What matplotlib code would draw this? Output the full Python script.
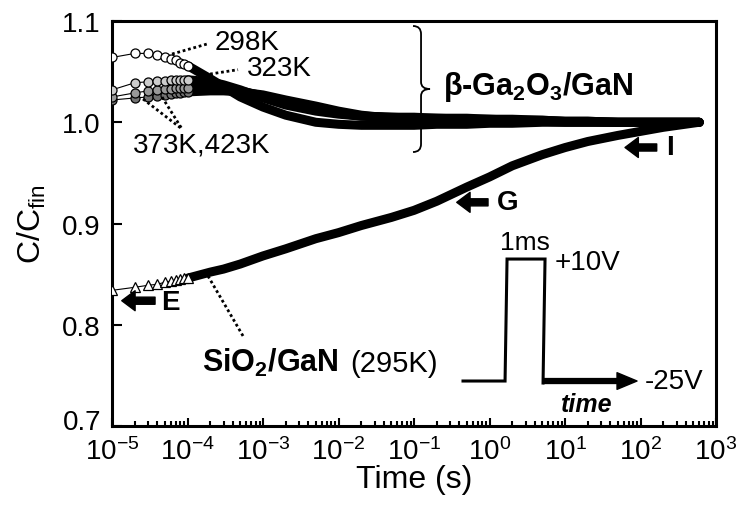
"""
Normalized capacitance transient C/C_fin after a +10 V / 1 ms pulse
beta-Ga2O3/GaN at several temperatures vs. SiO2/GaN reference
"""
import matplotlib.pyplot as plt
from matplotlib.path import Path
from matplotlib.patches import PathPatch
from matplotlib.ticker import LogLocator, NullFormatter
from matplotlib.transforms import ScaledTranslation

plt.rcParams['font.family'] = ['Liberation Sans', 'DejaVu Sans']
plt.rcParams['mathtext.fontset'] = 'custom'
plt.rcParams['mathtext.rm'] = 'Liberation Sans'
plt.rcParams['mathtext.it'] = 'Liberation Sans:italic'
plt.rcParams['mathtext.bf'] = 'Liberation Sans:bold'

# time axis (s)
time_s = [1e-5, 2e-5, 3e-5, 4e-5, 5e-5, 6e-5, 7e-5, 8e-5, 9e-5, 1e-4,
          2e-4, 3e-4, 5e-4, 1e-3, 2e-3, 5e-3, 1e-2, 2e-2, 5e-2, 0.1,
          0.2, 0.5, 1, 2, 5, 10, 20, 50, 100, 200, 600]

# beta-Ga2O3/GaN
c_298k = [1.064, 1.068, 1.068, 1.066, 1.064, 1.062, 1.061, 1.059, 1.058, 1.056,
          1.043, 1.035, 1.025, 1.015, 1.007, 1.000, 0.998, 0.997, 0.997, 0.997,
          0.998, 0.998, 0.999, 0.999, 1.000, 1.000, 1.000, 1.000, 1.000, 1.000, 1.000]
c_323k = [1.032, 1.039, 1.040, 1.041, 1.041, 1.042, 1.042, 1.042, 1.042, 1.042,
          1.040, 1.037, 1.032, 1.024, 1.017, 1.011, 1.008, 1.006, 1.005, 1.005,
          1.004, 1.004, 1.003, 1.003, 1.002, 1.001, 1.001, 1.000, 1.000, 1.000, 1.000]
c_373k = [1.025, 1.029, 1.031, 1.032, 1.033, 1.033, 1.034, 1.034, 1.034, 1.034,
          1.034, 1.033, 1.031, 1.026, 1.020, 1.013, 1.009, 1.006, 1.005, 1.004,
          1.004, 1.003, 1.003, 1.002, 1.002, 1.001, 1.001, 1.000, 1.000, 1.000, 1.000]
c_423k = [1.022, 1.024, 1.025, 1.026, 1.027, 1.028, 1.029, 1.029, 1.030, 1.030,
          1.031, 1.031, 1.030, 1.027, 1.022, 1.016, 1.011, 1.007, 1.004, 1.003,
          1.002, 1.002, 1.001, 1.001, 1.001, 1.000, 1.000, 1.000, 1.000, 1.000, 1.000]

# SiO2/GaN (295K)
c_sio2 = [0.834, 0.837, 0.839, 0.840, 0.842, 0.843, 0.844, 0.845, 0.846, 0.846,
          0.852, 0.855, 0.860, 0.868, 0.875, 0.885, 0.891, 0.898, 0.906, 0.913,
          0.922, 0.936, 0.946, 0.957, 0.968, 0.975, 0.981, 0.987, 0.991, 0.995, 1.000]

x_ticks = [1e-5, 1e-4, 1e-3, 1e-2, 1e-1, 1e0, 1e1, 1e2, 1e3]
x_ticklabels = ['$10^{-5}$', '$10^{-4}$', '$10^{-3}$', '$10^{-2}$', '$10^{-1}$',
                '$10^{0}$', '$10^{1}$', '$10^{2}$', '$10^{3}$']
y_ticks = [0.7, 0.8, 0.9, 1.0, 1.1]
y_ticklabels = ['0.7', '0.8', '0.9', '1.0', '1.1']

curves = [
    (c_sio2, '^', 'white'),
    (c_423k, 'o', '0.45'),
    (c_373k, 'o', '0.6'),
    (c_323k, 'o', '0.8'),
    (c_298k, 'o', 'white'),
]

fig = plt.figure(figsize=(7.4, 5.06), dpi=100)
ax = fig.add_axes([0.1514, 0.1561, 0.8162, 0.8004])

n_open = 10  # 前面稀疏的点画成单独的标记，后面密集部分画成粗线
for vals, mk, fc in curves:
    ax.plot(time_s[n_open - 1:], vals[n_open - 1:], color='black', lw=6.5,
            solid_capstyle='round', solid_joinstyle='round', zorder=2)
    ax.plot(time_s[:n_open], vals[:n_open], color='black', lw=0.8,
            marker=mk, ms=6.5, mfc=fc, mec='black', mew=0.9, zorder=3)

ax.set_xscale('log')
ax.set_xlim(1e-5, 1e3)
ax.set_ylim(0.7, 1.1)
ax.set_xticks(x_ticks)
ax.set_xticklabels(x_ticklabels)
ax.xaxis.set_minor_locator(LogLocator(base=10, subs=range(2, 10), numticks=20))
ax.xaxis.set_minor_formatter(NullFormatter())
ax.set_yticks(y_ticks)
ax.set_yticklabels(y_ticklabels)

ax.tick_params(which='both', direction='in', top=False, right=False, labelsize=20, width=1.5)
ax.tick_params(axis='x', which='major', length=6, pad=8)
ax.tick_params(axis='x', which='minor', length=3.5)
ax.tick_params(axis='y', which='major', length=7, pad=8)
for sp in ax.spines.values():
    sp.set_linewidth(2.2)

# 0.7 稍微上移，避免和 10^-5 挤在一起
lab07 = ax.get_yticklabels()[0]
lab07.set_transform(lab07.get_transform() + ScaledTranslation(0, 5 / 72, fig.dpi_scale_trans))

ax.set_xlabel('Time (s)', fontsize=23)
ax.set_ylabel('C/C$_\\mathregular{fin}$', fontsize=23)
ax.xaxis.set_label_coords(0.5, -0.095)
ax.xaxis.label.set_va('top')
ax.yaxis.set_label_coords(-0.106, 0.5)

T = ax.transAxes
fs = 20

# 温度标注和虚线引线
ax.text(0.1705, 0.948, '298K', transform=T, fontsize=fs, va='center', ha='left')
ax.text(0.2235, 0.884, '323K', transform=T, fontsize=fs, va='center', ha='left')
ax.text(0.0348, 0.694, '373K,423K', transform=T, fontsize=fs, va='center', ha='left')
leader = dict(color='black', lw=2.0, ls=(0, (1, 1)), transform=T, zorder=4)
ax.plot([0.0993, 0.1573], [0.9185, 0.9432], **leader)
ax.plot([0.1623, 0.2086], [0.8691, 0.8798], **leader)
ax.plot([0.0513, 0.1159], [0.8074, 0.7333], **leader)
ax.plot([0.0828, 0.1159], [0.8123, 0.7333], **leader)
ax.plot([0.1589, 0.2169], [0.3704, 0.2222], **leader)

# 大括号
brace_verts = [(0.4983, 0.9877), (0.5116, 0.9877), (0.5116, 0.9679),
               (0.5116, 0.8494),
               (0.5116, 0.8321), (0.5265, 0.8321),
               (0.5116, 0.8321), (0.5116, 0.8148),
               (0.5116, 0.6963),
               (0.5116, 0.6765), (0.4983, 0.6765)]
brace_codes = [Path.MOVETO, Path.CURVE3, Path.CURVE3,
               Path.LINETO,
               Path.CURVE3, Path.CURVE3,
               Path.CURVE3, Path.CURVE3,
               Path.LINETO,
               Path.CURVE3, Path.CURVE3]
ax.add_patch(PathPatch(Path(brace_verts, brace_codes), fc='none', ec='black',
                       lw=1.3, transform=T))

ax.text(0.548, 0.8198, 'β-Ga$_\\mathbf{2}$O$_\\mathbf{3}$/GaN', transform=T,
        fontsize=22, fontweight='bold', va='baseline', ha='left')
ax.text(0.1485, 0.1365, 'SiO$_\\mathbf{2}$/GaN', transform=T,
        fontsize=22, fontweight='bold', va='baseline', ha='left')
ax.text(0.3945, 0.1365, '(295K)', transform=T, fontsize=21, va='baseline', ha='left')

# E / G / I 箭头
arrow_kw = dict(arrowstyle='simple,head_length=0.6,head_width=0.9,tail_width=0.32',
                fc='black', ec='black', shrinkA=0, shrinkB=0, mutation_scale=16)
for tip, tail, lab, lab_pos in [((0.0161, 0.3094), (0.0712, 0.3094), 'E', (0.096, 0.306)),
                                ((0.5707, 0.5523), (0.6225, 0.5523), 'G', (0.6556, 0.553)),
                                ((0.8493, 0.6877), (0.9018, 0.6877), 'I', (0.9238, 0.689))]:
    ax.annotate('', xy=tip, xytext=tail, xycoords=T, textcoords=T, arrowprops=arrow_kw)
    ax.text(lab_pos[0], lab_pos[1], lab, transform=T, fontsize=fs, fontweight='bold',
            ha='center', va='center')

# 脉冲示意图
ax.plot([0.5811, 0.6507, 0.6540, 0.7169, 0.7136],
        [0.1111, 0.1111, 0.4123, 0.4123, 0.1062],
        color='black', lw=2.2, transform=T, solid_joinstyle='miter')
ax.annotate('', xy=(0.8692, 0.1111), xytext=(0.7136, 0.1111), xycoords=T, textcoords=T,
            arrowprops=dict(arrowstyle='simple,head_length=0.9,head_width=0.75,tail_width=0.22',
                            fc='black', ec='black', shrinkA=0, shrinkB=0, mutation_scale=16))
ax.text(0.6838, 0.4543, '1ms', transform=T, fontsize=19, ha='center', va='center')
ax.text(0.7334, 0.4049, '+10V', transform=T, fontsize=fs, ha='left', va='center')
ax.text(0.8825, 0.1111, '-25V', transform=T, fontsize=fs, ha='left', va='center')
ax.text(0.7864, 0.0543, 'time', transform=T, fontsize=18, fontweight='bold',
        fontstyle='italic', ha='center', va='center')

fig.savefig('out.png', dpi=100)
